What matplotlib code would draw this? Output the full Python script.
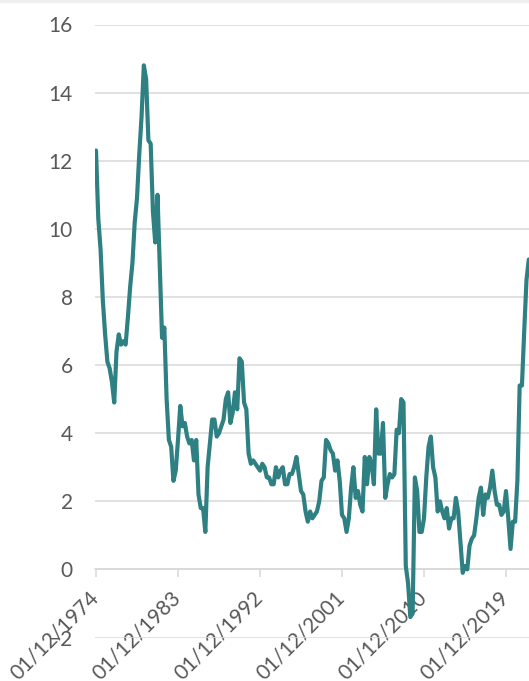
import pandas as pd
import matplotlib.pyplot as plt
from matplotlib.patches import Rectangle

# quarterly inflation (%), Dec 1974 .. Jun 2022
cpi = [
    12.3,                      # 1974
    10.3, 9.4, 7.9, 6.9,       # 1975
    6.1, 5.9, 5.5, 4.9,        # 1976
    6.4, 6.9, 6.6, 6.7,        # 1977
    6.6, 7.4, 8.3, 9.0,        # 1978
    10.2, 10.9, 12.2, 13.3,    # 1979
    14.8, 14.4, 12.6, 12.5,    # 1980
    10.5, 9.6, 11.0, 8.9,      # 1981
    6.8, 7.1, 5.0, 3.8,        # 1982
    3.6, 2.6, 2.9, 3.8,        # 1983
    4.8, 4.2, 4.3, 3.9,        # 1984
    3.7, 3.8, 3.2, 3.8,        # 1985
    2.2, 1.8, 1.8, 1.1,        # 1986
    3.0, 3.7, 4.4, 4.4,        # 1987
    3.9, 4.0, 4.2, 4.4,        # 1988
    5.0, 5.2, 4.3, 4.6,        # 1989
    5.2, 4.7, 6.2, 6.1,        # 1990
    4.9, 4.7, 3.4, 3.1,        # 1991
    3.2, 3.1, 3.0, 2.9,        # 1992
    3.1, 3.0, 2.7, 2.7,        # 1993
    2.5, 2.5, 3.0, 2.7,        # 1994
    2.9, 3.0, 2.5, 2.5,        # 1995
    2.8, 2.8, 3.0, 3.3,        # 1996
    2.8, 2.3, 2.2, 1.7,        # 1997
    1.4, 1.7, 1.5, 1.6,        # 1998
    1.7, 2.0, 2.6, 2.7,        # 1999
    3.8, 3.7, 3.5, 3.4,        # 2000
    2.9, 3.2, 2.6, 1.6,        # 2001
    1.5, 1.1, 1.5, 2.4,        # 2002
    3.0, 2.1, 2.3, 1.9,        # 2003
    1.7, 3.3, 2.5, 3.3,        # 2004
    3.1, 2.5, 4.7, 3.4,        # 2005
    3.4, 4.3, 2.1, 2.5,        # 2006
    2.8, 2.7, 2.8, 4.1,        # 2007
    4.0, 5.0, 4.9, 0.1,        # 2008
    -0.4, -1.4, -1.3, 2.7,     # 2009
    2.3, 1.1, 1.1, 1.5,        # 2010
    2.7, 3.6, 3.9, 3.0,        # 2011
    2.7, 1.7, 2.0, 1.7,        # 2012
    1.5, 1.8, 1.2, 1.5,        # 2013
    1.5, 2.1, 1.7, 0.8,        # 2014
    -0.1, 0.1, 0.0, 0.7,       # 2015
    0.9, 1.0, 1.5, 2.1,        # 2016
    2.4, 1.6, 2.2, 2.1,        # 2017
    2.4, 2.9, 2.3, 1.9,        # 2018
    1.9, 1.6, 1.7, 2.3,        # 2019
    1.5, 0.6, 1.4, 1.4,        # 2020
    2.6, 5.4, 5.4, 7.0,        # 2021
    8.5, 9.1,                  # 2022
]
dates = pd.date_range('1974-12-01', periods=len(cpi), freq='3MS')
label_step = 36  # every 9 years
y_ticks = list(range(-2, 17, 2))

plt.rcParams['font.family'] = ['Lato', 'DejaVu Sans']

fig = plt.figure(figsize=(5.29, 6.81), dpi=100)
ax = fig.add_axes([95 / 529, 43.5 / 681, 434 / 529, 613 / 681])

# thin grey strip at the very top
fig.patches.append(Rectangle((0, 1 - 2 / 681), 1, 2 / 681, transform=fig.transFigure,
                             color='#efefef', zorder=0))

x = list(range(len(cpi)))
ax.plot(x, cpi, color='#2E8083', linewidth=3, solid_joinstyle='round',
        solid_capstyle='round', zorder=3)

ax.set_xlim(-0.44, 190.1)
ax.set_ylim(-2, 16)
ax.set_yticks(y_ticks)
ax.yaxis.grid(True, color='#d9d9d9', linewidth=1.1)
ax.set_axisbelow(True)

for s in ['top', 'right', 'left']:
    ax.spines[s].set_visible(False)
ax.spines['bottom'].set_position(('data', 0))
ax.spines['bottom'].set_color('#d9d9d9')
ax.spines['bottom'].set_linewidth(1.1)

ticks = x[::label_step]
ax.set_xticks(ticks)
ax.set_xticklabels(dates[::label_step].strftime('%d/%m/%Y'), rotation=45,
                   ha='right', va='center', rotation_mode='anchor')
ax.tick_params(axis='x', length=6, width=1.1, color='#d9d9d9', pad=12,
               labelsize=15, labelcolor='#595959')
ax.tick_params(axis='y', length=0, pad=16, labelsize=15, labelcolor='#595959')

fig.savefig('out.png', dpi=100)
